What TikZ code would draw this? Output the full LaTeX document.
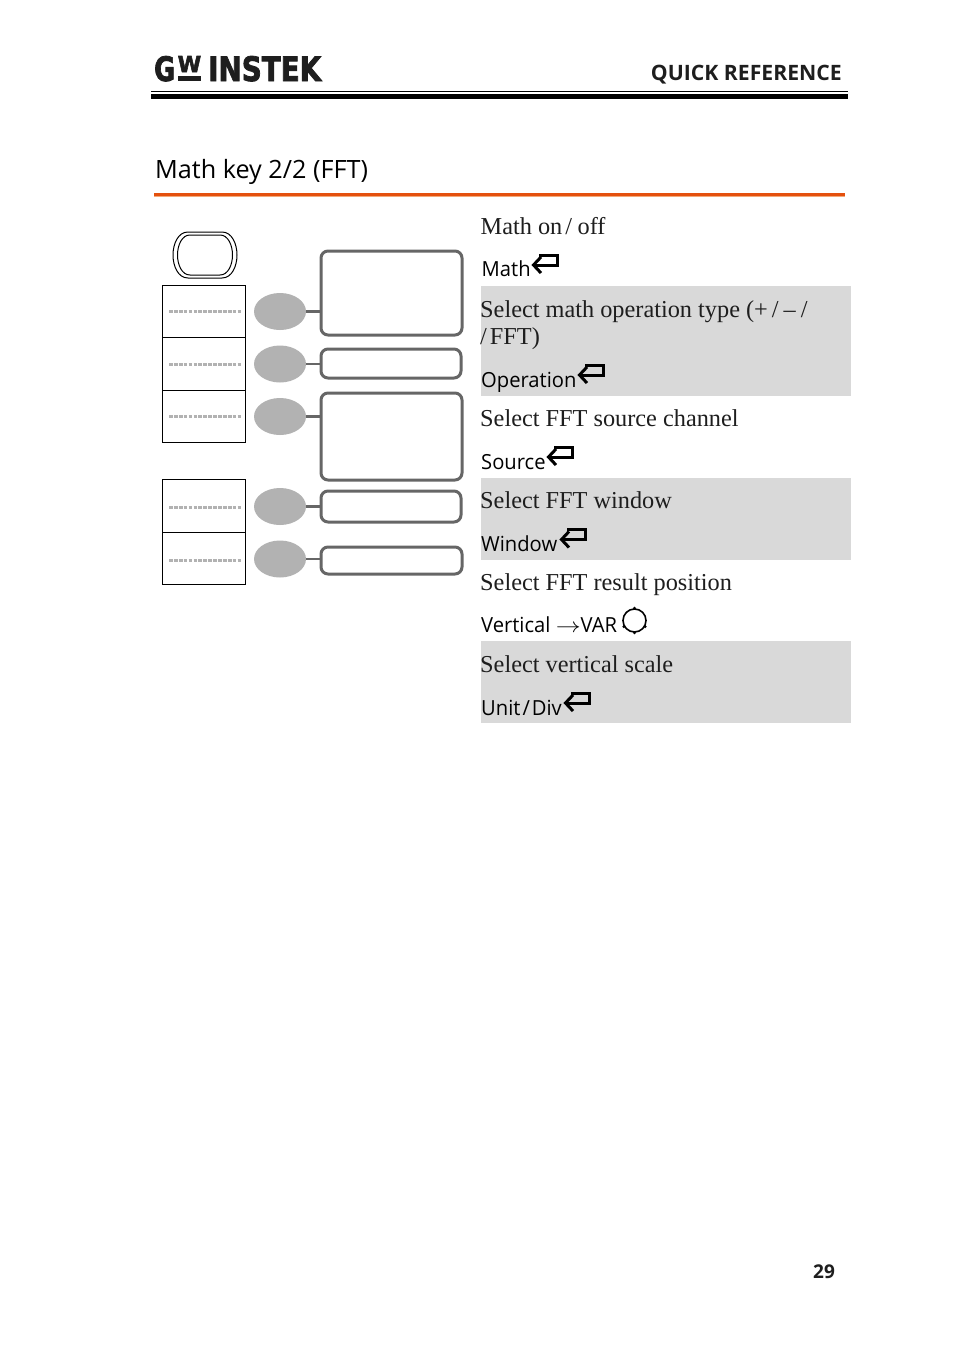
\documentclass[tikz,border=0pt]{standalone}
\usepackage{fontspec}
\usepackage{graphicx}
\setmainfont{Liberation Serif}
\newfontfamily\sansf{Open Sans}
\newfontfamily\sansk[FakeStretch=0.97]{Open Sans}
\newfontfamily\logof[BoldFeatures={FakeBold=2.5}]{DejaVu Sans}
\usetikzlibrary{calc,shapes.geometric}
\definecolor{bandgray}{HTML}{D9D9D9}
\definecolor{softgray}{HTML}{B2B2B2}
\definecolor{edgegray}{HTML}{666666}
\definecolor{rulered}{HTML}{E4500E}
\definecolor{rulelight}{HTML}{F4A878}
\definecolor{inkblack}{HTML}{1E1E1E}
\tikzset{
  x=1pt,y=-1pt,
  desc/.style={anchor=base west,inner sep=0pt,font=\fontsize{24.3}{24.3}\selectfont,text=inkblack},
  keylabel/.style={anchor=base west,inner sep=0pt,font=\sansk\fontsize{20.8}{20.8}\selectfont,text=black},
  softkey/.style={draw=black,line width=1.2pt,fill=white,minimum width=83pt,minimum height=52.5pt,inner sep=0pt},
  oval/.style={ellipse,fill=softgray,minimum width=52pt,minimum height=37pt,inner sep=0pt},
  menubox/.style={draw=edgegray,line width=3pt,rounded corners=7pt,fill=white,minimum width=141pt,inner sep=0pt},
  link/.style={draw=edgegray,line width=2.6pt},
  dots/.style={draw=softgray,line width=3pt,dash pattern=on 3.7pt off 1.2pt},
  ret/.pic={
    \draw[line width=3pt,black,line join=miter] (6,-9.7) -- (24,-9.7) -- (24,0) -- (1,0);
    \draw[line width=3pt,black,line join=miter] (8,-8) -- (0.5,0) -- (8,8);
  }
}
\begin{document}
\begin{tikzpicture}
\useasboundingbox (0,0) rectangle (954,1349);
\fill[white] (0,0) rectangle (954,1349);

% header
\node[anchor=base west,inner sep=0pt,text=inkblack] (logoG) at (154,81) {\logof\bfseries\resizebox{21pt}{25pt}{G}};
\node[anchor=base west,inner sep=0pt,text=inkblack] (logoW) at (177.5,72) {\logof\bfseries\resizebox{23.5pt}{16pt}{W}};
\fill[inkblack] (177.5,76) rectangle (201,81);
\node[anchor=base west,inner sep=0pt,text=inkblack] (logoI) at (208,81) {\logof\bfseries\resizebox{113pt}{25pt}{INSTEK}};
\node[anchor=base east,inner sep=0pt,font=\sansf\fontsize{21.2}{21.2}\selectfont\bfseries,text=inkblack] (section) at (842,80.5) {QUICK REFERENCE};
\draw[black,line width=1.1pt] (151,91.5) -- (848,91.5);
\fill[black] (151,94) rectangle (848,99);

% title
\node[anchor=base west,inner sep=0pt,font=\sansf\fontsize{25.2}{25.2}\selectfont,text=black] (title) at (155,178) {Math key 2/2 (FFT)};
\fill[rulered] (154,193) rectangle (845,195.6);
\fill[rulelight] (154,195.6) rectangle (845,197);

% bands
\fill[bandgray] (481,286) rectangle (851,396);
\fill[bandgray] (481,478) rectangle (851,560);
\fill[bandgray] (481,641) rectangle (851,723);

% math button
\draw[black,line width=1pt] (188,232) -- (222,232) .. controls (232,232) and (237,244) .. (237,255) .. controls (237,266) and (232,278) .. (222,278) -- (188,278) .. controls (178,278) and (173,266) .. (173,255) .. controls (173,244) and (178,232) .. (188,232) -- cycle;
\draw[black,line width=1pt] (190,235) -- (220,235) .. controls (228,235) and (232.5,245) .. (232.5,255) .. controls (232.5,265) and (228,275) .. (220,275) -- (190,275) .. controls (182,275) and (177.5,265) .. (177.5,255) .. controls (177.5,245) and (182,235) .. (190,235) -- cycle;

% soft keys
\node[softkey] (k1) at (204,311.5) {};
\node[softkey] (k2) at (204,364) {};
\node[softkey] (k3) at (204,416.5) {};
\node[softkey] (k4) at (204,506) {};
\node[softkey] (k5) at (204,558.5) {};
\foreach \k in {k1,k2,k3,k4,k5}{
  \coordinate (\k dl) at ($(\k)+(-35,0)$);
  \coordinate (\k dr) at ($(\k)+(36.5,0)$);
}
\draw[dots] (k1dl) -- (k1dr);
\draw[dots] (k2dl) -- (k2dr);
\draw[dots] (k3dl) -- (k3dr);
\draw[dots] ($(k4dl)+(0,1.5)$) -- ($(k4dr)+(0,1.5)$);
\draw[dots] ($(k5dl)+(0,1.5)$) -- ($(k5dr)+(0,1.5)$);

% menu boxes
\node[menubox,minimum height=84pt] (m1) at (391.5,293) {};
\node[menubox,minimum height=29pt,minimum width=140pt] (m2) at (391,363.5) {};
\node[menubox,minimum height=87pt] (m3) at (391.5,436.5) {};
\node[menubox,minimum height=31pt,minimum width=140pt] (m4) at (391,506.5) {};
\node[menubox,minimum height=27pt] (m5) at (391.5,560.5) {};

% ovals
\node[oval] (o1) at (280,311.5) {};
\node[oval] (o2) at (280,364) {};
\node[oval] (o3) at (280,416.5) {};
\node[oval] (o4) at (280,506.5) {};
\node[oval] (o5) at (280,559) {};

\draw[link] (o1.east) -- (o1.east -| m1.west);
\draw[link] (o2.east) -- (o2.east -| m2.west);
\draw[link] (o3.east) -- (o3.east -| m3.west);
\draw[link] (o4.east) -- (o4.east -| m4.west);
\draw[link,line width=1.8pt] (o5.east) -- (o5.east -| m5.west);

% descriptions
\node[desc] (d1) at (480.5,234) {Math on\hspace{3pt}/\hspace{5.5pt}off};
\node[keylabel] (l1) at (481.5,276.5) {Math};
\pic at (533,265) {ret};
\node[desc] (d2) at (480,317) {Select math operation type (+\hspace{4pt}/\hspace{5pt}–\hspace{5pt}/};
\node[desc] (d2b) at (480,344) {/\hspace{3pt}FFT)};
\node[keylabel] (l2) at (481,387) {Operation};
\pic at (579,375) {ret};
\node[desc] (d3) at (480,426) {Select FFT source channel};
\node[keylabel] (l3) at (481,469) {Source};
\pic at (548,457) {ret};
\node[desc] (d4) at (480,508) {Select FFT window};
\node[keylabel] (l4) at (481,551) {Window};
\pic at (561,539.5) {ret};
\node[desc] (d5) at (480,590) {Select FFT result position};
\node[keylabel] (l5) at (481,632) {Vertical \scalebox{1.2}[1]{$\rightarrow$}VAR};
\node[draw=black,line width=1.6pt,circle,minimum size=23pt,inner sep=0pt] (knob) at (634.5,620.5) {};
\foreach \a in {90,210,270,330}{\fill[black] (knob.\a) circle (1.6);}
\node[desc] (d6) at (480,672) {Select vertical scale};
\node[keylabel] (l6) at (481,715) {Unit\hspace{2pt}/\hspace{2pt}Div};
\pic at (565,703) {ret};

% page number
\node[anchor=base,inner sep=0pt,font=\sansf\bfseries\fontsize{19}{19}\selectfont,text=inkblack] (page) at (824,1278) {29};
\end{tikzpicture}
\end{document}
